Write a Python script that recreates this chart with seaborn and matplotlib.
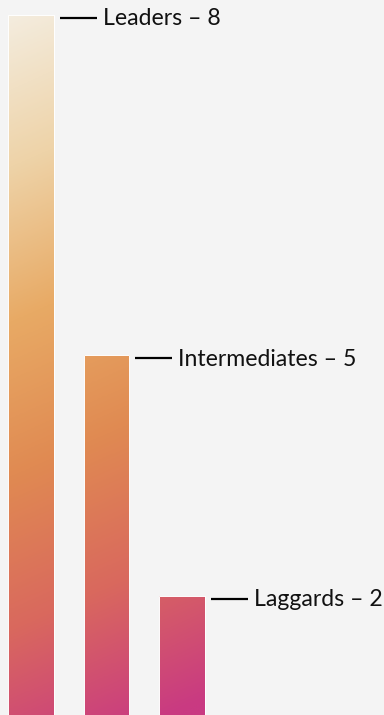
import numpy as np
import pandas as pd
import seaborn as sns
import matplotlib.pyplot as plt
from matplotlib.colors import LinearSegmentedColormap

# data
groups = ["Leaders", "Intermediates", "Laggards"]
counts = [8, 5, 2]
bar_heights = [8.0, 4.11, 1.36]   # bar tops as drawn (not proportional to counts)

bg = "#f4f4f4"
df = pd.DataFrame({"group": groups, "height": bar_heights})

sns.set_style("white")
plt.rcParams["font.family"] = ["Lato", "DejaVu Sans"]

fig = plt.figure(figsize=(3.84, 7.15), dpi=100, facecolor=bg)
ax = fig.add_axes([0, 0, 1, 1])
ax.set_facecolor(bg)

sns.barplot(data=df, x="group", y="height", width=0.6, ax=ax,
            color="white", edgecolor="none")

xmin, xmax = -0.41, 4.676
ymin, ymax = 0, 8.171
ax.set_xlim(xmin, xmax)
ax.set_ylim(ymin, ymax)
ax.axis("off")

# diagonal warm gradient clipped to the bars
cmap = LinearSegmentedColormap.from_list("warm", [
    (0.0, "#f4ede0"), (0.2, "#eed3a8"), (0.4, "#e8aa65"),
    (0.6, "#e08a52"), (0.8, "#d9685e"), (1.0, "#c93a82")])
ny, nx = 400, 200
yy, xx = np.mgrid[0:1:ny * 1j, 0:1:nx * 1j]   # row 0 = top of axes
frac_top = (ymax - 8.0) / ymax
tt = np.clip((yy - frac_top) / (1 - frac_top), 0, 1) * 0.9 + xx * 0.22
img_data = np.clip(tt, 0, 1)

for p in ax.patches:
    p.set_facecolor("none")
    im = ax.imshow(img_data, cmap=cmap, vmin=0, vmax=1, aspect="auto",
                   extent=[xmin, xmax, ymin, ymax], origin="upper",
                   interpolation="bicubic", zorder=1)
    im.set_clip_path(p)
    p.set_edgecolor("white")
    p.set_linewidth(0.7)
    p.set_zorder(2)

# leader lines and labels
px_x = (xmax - xmin) / 384
px_y = (ymax - ymin) / 715
for p, name, n in zip(ax.patches, groups, counts):
    right = p.get_x() + p.get_width()
    top = p.get_height()
    y = top - 3 * px_y
    ax.plot([right + 6 * px_x, right + 43 * px_x], [y, y], color="black",
            lw=1.6, solid_capstyle="butt", zorder=3)
    ax.text(right + 49 * px_x, y - 1 * px_y, f"{name} \u2013 {n}",
            ha="left", va="center", fontsize=16.6, color="#111111", zorder=3)

fig.savefig("out.png", dpi=100, facecolor=bg)
